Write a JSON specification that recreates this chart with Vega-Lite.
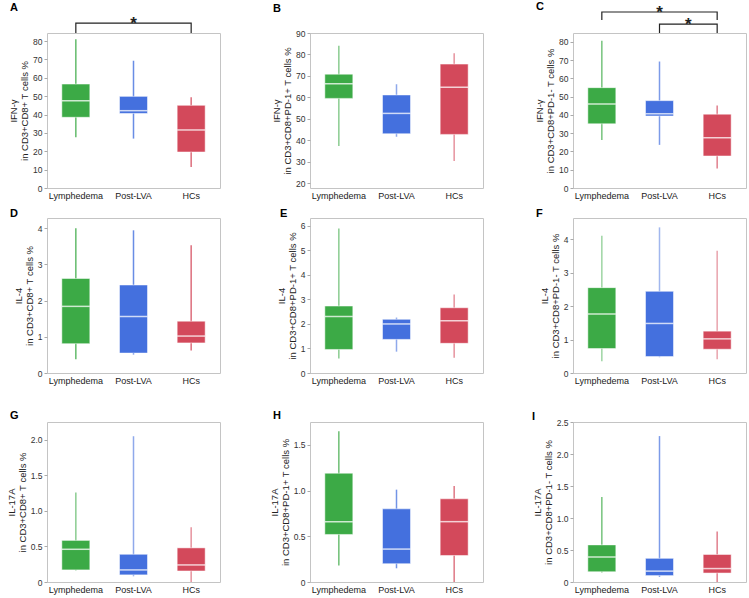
{
"$schema":"https://vega.github.io/schema/vega-lite/v6.json",
"padding":{"left":5,"top":0,"right":0,"bottom":0},
"background":"white",
"spacing":6,
"resolve":{"scale":{"x":"independent","y":"independent","color":"independent"}},
"config":{
 "view":{"stroke":"#c4c4c4","strokeWidth":1},
 "font":"Liberation Sans",
 "title":{"anchor":"start","frame":"group","font":"Liberation Sans","fontSize":11,"fontWeight":"bold","color":"#000","offset":0},
 "axis":{"domain":false,"grid":false,"labelFont":"Liberation Sans","titleFont":"Liberation Sans","labelColor":"#333","titleColor":"#222","tickColor":"#aaa","tickSize":3,"labelFontSize":8.5,"titleFontSize":9.5,"titleFontWeight":"normal","titleLineHeight":11,"titlePadding":3,"labelPadding":2,"labelOverlap":false,"labelFlush":false,"labelBound":false,"labelSeparation":0},
 "axisX":{"ticks":false,"labelFontSize":9,"labelAngle":0,"labelPadding":3,"labelColor":"#222"}
},
"vconcat":[
{"hconcat":[
 {"width":173,"height":155,"title":{"text":"A","dx":-37,"dy":1.5},
  "data":{"values":[
   {"g":"Lymphedema","min":27.6,"q1":38.5,"med":47.5,"q3":56.6,"max":81},
   {"g":"Post-LVA","min":26.9,"q1":40.6,"med":42.1,"q3":49.9,"max":69.3},
   {"g":"HCs","min":11.4,"q1":19.6,"med":31.6,"q3":45,"max":49.4}]},
  "encoding":{"x":{"field":"g","type":"nominal","sort":["Lymphedema","Post-LVA","HCs"],"title":null,"scale":{"paddingInner":0,"paddingOuter":0}},
   "color":{"field":"g","type":"nominal","scale":{"domain":["Lymphedema","Post-LVA","HCs"],"range":["#3caa46","#4470de","#d3495b"]},"legend":null}},
  "layer":[
   {"mark":{"type":"rule","strokeWidth":1.5,"opacity":0.8},"encoding":{"y":{"field":"min","type":"quantitative","scale":{"domain":[0,84.4],"nice":false,"zero":false},"axis":{"values":[0,10,20,30,40,50,60,70,80],"labelOverlap":false},"title":["IFN-γ","in CD3+CD8+ T cells %"]},"y2":{"field":"max"}}},
   {"mark":{"type":"bar","size":28,"stroke":"white","strokeOpacity":0.5,"strokeWidth":1},"encoding":{"y":{"field":"q1","type":"quantitative","axis":{"values":[0,10,20,30,40,50,60,70,80],"labelOverlap":false},"title":["IFN-γ","in CD3+CD8+ T cells %"]},"y2":{"field":"q3"}}},
   {"mark":{"type":"tick","size":28,"thickness":1.5,"opacity":0.75},"encoding":{"y":{"field":"med","type":"quantitative","axis":{"values":[0,10,20,30,40,50,60,70,80],"labelOverlap":false},"title":["IFN-γ","in CD3+CD8+ T cells %"]},"color":{"value":"white"}}},
   {"data":{"values":[{"g":"Lymphedema","y":84.4,"o":1,"b":1},{"g":"Lymphedema","y":89.8,"o":2,"b":1},{"g":"HCs","y":89.8,"o":3,"b":1},{"g":"HCs","y":84.4,"o":4,"b":1}]},
    "mark":{"type":"line","strokeWidth":1.2},"encoding":{"y":{"field":"y","type":"quantitative","axis":{"values":[0,10,20,30,40,50,60,70,80],"labelOverlap":false},"title":["IFN-γ","in CD3+CD8+ T cells %"]},"order":{"field":"o","type":"quantitative"},"detail":{"field":"b"},"color":{"value":"#222"}}},
   {"data":{"values":[{"g":"Post-LVA","y":89.8,"s":"*"}]},
    "mark":{"type":"text","fontSize":17,"fontWeight":"bold","baseline":"alphabetic","dy":6},"encoding":{"y":{"field":"y","type":"quantitative","axis":{"values":[0,10,20,30,40,50,60,70,80],"labelOverlap":false},"title":["IFN-γ","in CD3+CD8+ T cells %"]},"text":{"field":"s"},"color":{"value":"#222"}}}
  ]},
 {"width":173,"height":155,"title":{"text":"B","dx":-37,"dy":-11.5},
  "data":{"values":[
   {"g":"Lymphedema","min":37.3,"q1":59.5,"med":66.3,"q3":70.8,"max":84.1},
   {"g":"Post-LVA","min":41.6,"q1":43,"med":52.5,"q3":61.1,"max":66.1},
   {"g":"HCs","min":30.3,"q1":42.7,"med":64.7,"q3":75.5,"max":80.6}]},
  "encoding":{"x":{"field":"g","type":"nominal","sort":["Lymphedema","Post-LVA","HCs"],"title":null,"scale":{"paddingInner":0,"paddingOuter":0}},
   "color":{"field":"g","type":"nominal","scale":{"domain":["Lymphedema","Post-LVA","HCs"],"range":["#3caa46","#4470de","#d3495b"]},"legend":null}},
  "layer":[
   {"mark":{"type":"rule","strokeWidth":1.5,"opacity":0.6},"encoding":{"y":{"field":"min","type":"quantitative","scale":{"domain":[17.7,90],"nice":false,"zero":false},"axis":{"values":[20,30,40,50,60,70,80,90],"labelOverlap":false},"title":["IFN-γ","in CD3+CD8+PD-1+ T cells %"]},"y2":{"field":"max"}}},
   {"mark":{"type":"bar","size":28,"stroke":"white","strokeOpacity":0.5,"strokeWidth":1},"encoding":{"y":{"field":"q1","type":"quantitative","axis":{"values":[20,30,40,50,60,70,80,90],"labelOverlap":false},"title":["IFN-γ","in CD3+CD8+PD-1+ T cells %"]},"y2":{"field":"q3"}}},
   {"mark":{"type":"tick","size":28,"thickness":1.5,"opacity":0.75},"encoding":{"y":{"field":"med","type":"quantitative","axis":{"values":[20,30,40,50,60,70,80,90],"labelOverlap":false},"title":["IFN-γ","in CD3+CD8+PD-1+ T cells %"]},"color":{"value":"white"}}}
  ]},
 {"width":173,"height":155,"title":{"text":"C","dx":-37,"dy":12},
  "data":{"values":[
   {"g":"Lymphedema","min":26.3,"q1":35.1,"med":46,"q3":54.9,"max":80.5},
   {"g":"Post-LVA","min":23.6,"q1":39.4,"med":40.6,"q3":47.8,"max":69.2},
   {"g":"HCs","min":10.7,"q1":17.5,"med":27.5,"q3":40.4,"max":45.1}]},
  "encoding":{"x":{"field":"g","type":"nominal","sort":["Lymphedema","Post-LVA","HCs"],"title":null,"scale":{"paddingInner":0,"paddingOuter":0}},
   "color":{"field":"g","type":"nominal","scale":{"domain":["Lymphedema","Post-LVA","HCs"],"range":["#3caa46","#4470de","#d3495b"]},"legend":null}},
  "layer":[
   {"mark":{"type":"rule","strokeWidth":1.5,"opacity":0.7},"encoding":{"y":{"field":"min","type":"quantitative","scale":{"domain":[0,84.8],"nice":false,"zero":false},"axis":{"values":[0,10,20,30,40,50,60,70,80],"labelOverlap":false},"title":["IFN-γ","in CD3+CD8+PD-1- T cells %"]},"y2":{"field":"max"}}},
   {"mark":{"type":"bar","size":28,"stroke":"white","strokeOpacity":0.5,"strokeWidth":1},"encoding":{"y":{"field":"q1","type":"quantitative","axis":{"values":[0,10,20,30,40,50,60,70,80],"labelOverlap":false},"title":["IFN-γ","in CD3+CD8+PD-1- T cells %"]},"y2":{"field":"q3"}}},
   {"mark":{"type":"tick","size":28,"thickness":1.5,"opacity":0.75},"encoding":{"y":{"field":"med","type":"quantitative","axis":{"values":[0,10,20,30,40,50,60,70,80],"labelOverlap":false},"title":["IFN-γ","in CD3+CD8+PD-1- T cells %"]},"color":{"value":"white"}}},
   {"data":{"values":[
     {"g":"Lymphedema","y":91.9,"o":1,"b":1},{"g":"Lymphedema","y":96.3,"o":2,"b":1},{"g":"HCs","y":96.3,"o":3,"b":1},{"g":"HCs","y":91.9,"o":4,"b":1},
     {"g":"Post-LVA","y":84.8,"o":1,"b":2},{"g":"Post-LVA","y":89.7,"o":2,"b":2},{"g":"HCs","y":89.7,"o":3,"b":2},{"g":"HCs","y":84.8,"o":4,"b":2}]},
    "mark":{"type":"line","strokeWidth":1.2},"encoding":{"y":{"field":"y","type":"quantitative","axis":{"values":[0,10,20,30,40,50,60,70,80],"labelOverlap":false},"title":["IFN-γ","in CD3+CD8+PD-1- T cells %"]},"order":{"field":"o","type":"quantitative"},"detail":{"field":"b"},"color":{"value":"#222"}}},
   {"data":{"values":[{"g":"Post-LVA","y":96.3,"s":"*"}]},
    "mark":{"type":"text","fontSize":17,"fontWeight":"bold","baseline":"alphabetic","dy":6},"encoding":{"y":{"field":"y","type":"quantitative","axis":{"values":[0,10,20,30,40,50,60,70,80],"labelOverlap":false},"title":["IFN-γ","in CD3+CD8+PD-1- T cells %"]},"text":{"field":"s"},"color":{"value":"#222"}}},
   {"data":{"values":[{"g":"HCs","y":89.7,"s":"*"}]},
    "mark":{"type":"text","fontSize":17,"fontWeight":"bold","baseline":"alphabetic","dy":6},"encoding":{"x":{"field":"g","type":"nominal","bandPosition":0},"y":{"field":"y","type":"quantitative","axis":{"values":[0,10,20,30,40,50,60,70,80],"labelOverlap":false},"title":["IFN-γ","in CD3+CD8+PD-1- T cells %"]},"text":{"field":"s"},"color":{"value":"#222"}}}
  ]}
 ],"spacing":90,"bounds":"flush","resolve":{"scale":{"x":"independent","y":"independent","color":"independent"}}},
{"vconcat":[
 {"hconcat":[
  {"width":173,"height":155,"title":{"text":"D","dx":-37,"dy":5},
   "data":{"values":[
    {"g":"Lymphedema","min":0.38,"q1":0.81,"med":1.84,"q3":2.61,"max":4.0},
    {"g":"Post-LVA","min":0.51,"q1":0.55,"med":1.56,"q3":2.43,"max":3.94},
    {"g":"HCs","min":0.62,"q1":0.83,"med":1.02,"q3":1.43,"max":3.53}]},
   "encoding":{"x":{"field":"g","type":"nominal","sort":["Lymphedema","Post-LVA","HCs"],"title":null,"scale":{"paddingInner":0,"paddingOuter":0}},
    "color":{"field":"g","type":"nominal","scale":{"domain":["Lymphedema","Post-LVA","HCs"],"range":["#3caa46","#4470de","#d3495b"]},"legend":null}},
   "layer":[
    {"mark":{"type":"rule","strokeWidth":1.5,"opacity":0.8},"encoding":{"y":{"field":"min","type":"quantitative","scale":{"domain":[0,4.28],"nice":false,"zero":false},"axis":{"values":[0,1,2,3,4],"labelOverlap":false},"title":["IL-4","in CD3+CD8+ T cells %"]},"y2":{"field":"max"}}},
    {"mark":{"type":"bar","size":28,"stroke":"white","strokeOpacity":0.5,"strokeWidth":1},"encoding":{"y":{"field":"q1","type":"quantitative","axis":{"values":[0,1,2,3,4],"labelOverlap":false},"title":["IL-4","in CD3+CD8+ T cells %"]},"y2":{"field":"q3"}}},
    {"mark":{"type":"tick","size":28,"thickness":1.5,"opacity":0.75},"encoding":{"y":{"field":"med","type":"quantitative","axis":{"values":[0,1,2,3,4],"labelOverlap":false},"title":["IL-4","in CD3+CD8+ T cells %"]},"color":{"value":"white"}}}
   ]},
  {"width":173,"height":155,"title":{"text":"E","dx":-30,"dy":5},
   "data":{"values":[
    {"g":"Lymphedema","min":0.59,"q1":0.96,"med":2.3,"q3":2.73,"max":5.89},
    {"g":"Post-LVA","min":0.87,"q1":1.37,"med":2.0,"q3":2.19,"max":2.26},
    {"g":"HCs","min":0.62,"q1":1.21,"med":2.13,"q3":2.66,"max":3.2}]},
   "encoding":{"x":{"field":"g","type":"nominal","sort":["Lymphedema","Post-LVA","HCs"],"title":null,"scale":{"paddingInner":0,"paddingOuter":0}},
    "color":{"field":"g","type":"nominal","scale":{"domain":["Lymphedema","Post-LVA","HCs"],"range":["#3caa46","#4470de","#d3495b"]},"legend":null}},
   "layer":[
    {"mark":{"type":"rule","strokeWidth":1.5,"opacity":0.6},"encoding":{"y":{"field":"min","type":"quantitative","scale":{"domain":[0,6.32],"nice":false,"zero":false},"axis":{"values":[0,1,2,3,4,5,6],"labelOverlap":false},"title":["IL-4","in CD3+CD8+PD-1+ T cells %"]},"y2":{"field":"max"}}},
    {"mark":{"type":"bar","size":28,"stroke":"white","strokeOpacity":0.5,"strokeWidth":1},"encoding":{"y":{"field":"q1","type":"quantitative","axis":{"values":[0,1,2,3,4,5,6],"labelOverlap":false},"title":["IL-4","in CD3+CD8+PD-1+ T cells %"]},"y2":{"field":"q3"}}},
    {"mark":{"type":"tick","size":28,"thickness":1.5,"opacity":0.75},"encoding":{"y":{"field":"med","type":"quantitative","axis":{"values":[0,1,2,3,4,5,6],"labelOverlap":false},"title":["IL-4","in CD3+CD8+PD-1+ T cells %"]},"color":{"value":"white"}}}
   ]},
  {"width":173,"height":155,"title":{"text":"F","dx":-37,"dy":5},
   "data":{"values":[
    {"g":"Lymphedema","min":0.35,"q1":0.73,"med":1.76,"q3":2.55,"max":4.1},
    {"g":"Post-LVA","min":0.47,"q1":0.49,"med":1.48,"q3":2.44,"max":4.35},
    {"g":"HCs","min":0.41,"q1":0.71,"med":1.02,"q3":1.25,"max":3.65}]},
   "encoding":{"x":{"field":"g","type":"nominal","sort":["Lymphedema","Post-LVA","HCs"],"title":null,"scale":{"paddingInner":0,"paddingOuter":0}},
    "color":{"field":"g","type":"nominal","scale":{"domain":["Lymphedema","Post-LVA","HCs"],"range":["#3caa46","#4470de","#d3495b"]},"legend":null}},
   "layer":[
    {"mark":{"type":"rule","strokeWidth":1.5,"opacity":0.5},"encoding":{"y":{"field":"min","type":"quantitative","scale":{"domain":[0,4.63],"nice":false,"zero":false},"axis":{"values":[0,1,2,3,4],"labelOverlap":false},"title":["IL-4","in CD3+CD8+PD-1- T cells %"]},"y2":{"field":"max"}}},
    {"mark":{"type":"bar","size":28,"stroke":"white","strokeOpacity":0.5,"strokeWidth":1},"encoding":{"y":{"field":"q1","type":"quantitative","axis":{"values":[0,1,2,3,4],"labelOverlap":false},"title":["IL-4","in CD3+CD8+PD-1- T cells %"]},"y2":{"field":"q3"}}},
    {"mark":{"type":"tick","size":28,"thickness":1.5,"opacity":0.75},"encoding":{"y":{"field":"med","type":"quantitative","axis":{"values":[0,1,2,3,4],"labelOverlap":false},"title":["IL-4","in CD3+CD8+PD-1- T cells %"]},"color":{"value":"white"}}}
   ]}
 ],"spacing":90,"bounds":"flush","resolve":{"scale":{"x":"independent","y":"independent","color":"independent"}}},
 {"hconcat":[
  {"width":173,"height":160,"title":{"text":"G","dx":-37,"dy":3},
   "data":{"values":[
    {"g":"Lymphedema","min":0.16,"q1":0.17,"med":0.46,"q3":0.585,"max":1.26},
    {"g":"Post-LVA","min":0.08,"q1":0.1,"med":0.17,"q3":0.39,"max":2.05},
    {"g":"HCs","min":0,"q1":0.155,"med":0.24,"q3":0.48,"max":0.77}]},
   "encoding":{"x":{"field":"g","type":"nominal","sort":["Lymphedema","Post-LVA","HCs"],"title":null,"scale":{"paddingInner":0,"paddingOuter":0}},
    "color":{"field":"g","type":"nominal","scale":{"domain":["Lymphedema","Post-LVA","HCs"],"range":["#3caa46","#4470de","#d3495b"]},"legend":null}},
   "layer":[
    {"mark":{"type":"rule","strokeWidth":1.5,"opacity":0.6},"encoding":{"y":{"field":"min","type":"quantitative","scale":{"domain":[0,2.25],"nice":false,"zero":false},"axis":{"values":[0,0.5,1,1.5,2],"labelOverlap":false,"labelExpr":"datum.value == 0 ? '0' : format(datum.value, '.1f')"},"title":["IL-17A","in CD3+CD8+ T cells %"]},"y2":{"field":"max"}}},
    {"mark":{"type":"bar","size":28,"stroke":"white","strokeOpacity":0.5,"strokeWidth":1},"encoding":{"y":{"field":"q1","type":"quantitative","axis":{"values":[0,0.5,1,1.5,2],"labelOverlap":false,"labelExpr":"datum.value == 0 ? '0' : format(datum.value, '.1f')"},"title":["IL-17A","in CD3+CD8+ T cells %"]},"y2":{"field":"q3"}}},
    {"mark":{"type":"tick","size":28,"thickness":1.5,"opacity":0.75},"encoding":{"y":{"field":"med","type":"quantitative","axis":{"values":[0,0.5,1,1.5,2],"labelOverlap":false,"labelExpr":"datum.value == 0 ? '0' : format(datum.value, '.1f')"},"title":["IL-17A","in CD3+CD8+ T cells %"]},"color":{"value":"white"}}}
   ]},
  {"width":173,"height":160,"title":{"text":"H","dx":-37,"dy":3},
   "data":{"values":[
    {"g":"Lymphedema","min":0.18,"q1":0.52,"med":0.66,"q3":1.19,"max":1.65},
    {"g":"Post-LVA","min":0.15,"q1":0.2,"med":0.36,"q3":0.8,"max":1.01},
    {"g":"HCs","min":0,"q1":0.29,"med":0.66,"q3":0.91,"max":1.05}]},
   "encoding":{"x":{"field":"g","type":"nominal","sort":["Lymphedema","Post-LVA","HCs"],"title":null,"scale":{"paddingInner":0,"paddingOuter":0}},
    "color":{"field":"g","type":"nominal","scale":{"domain":["Lymphedema","Post-LVA","HCs"],"range":["#3caa46","#4470de","#d3495b"]},"legend":null}},
   "layer":[
    {"mark":{"type":"rule","strokeWidth":1.5,"opacity":0.75},"encoding":{"y":{"field":"min","type":"quantitative","scale":{"domain":[0,1.75],"nice":false,"zero":false},"axis":{"values":[0,0.5,1,1.5],"labelOverlap":false,"labelExpr":"datum.value == 0 ? '0' : format(datum.value, '.1f')"},"title":["IL-17A","in CD3+CD8+PD-1+ T cells %"]},"y2":{"field":"max"}}},
    {"mark":{"type":"bar","size":28,"stroke":"white","strokeOpacity":0.5,"strokeWidth":1},"encoding":{"y":{"field":"q1","type":"quantitative","axis":{"values":[0,0.5,1,1.5],"labelOverlap":false,"labelExpr":"datum.value == 0 ? '0' : format(datum.value, '.1f')"},"title":["IL-17A","in CD3+CD8+PD-1+ T cells %"]},"y2":{"field":"q3"}}},
    {"mark":{"type":"tick","size":28,"thickness":1.5,"opacity":0.75},"encoding":{"y":{"field":"med","type":"quantitative","axis":{"values":[0,0.5,1,1.5],"labelOverlap":false,"labelExpr":"datum.value == 0 ? '0' : format(datum.value, '.1f')"},"title":["IL-17A","in CD3+CD8+PD-1+ T cells %"]},"color":{"value":"white"}}}
   ]},
  {"width":173,"height":160,"title":{"text":"I","dx":-41,"dy":7.5},
   "data":{"values":[
    {"g":"Lymphedema","min":0.15,"q1":0.16,"med":0.39,"q3":0.58,"max":1.33},
    {"g":"Post-LVA","min":0.08,"q1":0.1,"med":0.17,"q3":0.37,"max":2.28},
    {"g":"HCs","min":0,"q1":0.14,"med":0.21,"q3":0.43,"max":0.79}]},
   "encoding":{"x":{"field":"g","type":"nominal","sort":["Lymphedema","Post-LVA","HCs"],"title":null,"scale":{"paddingInner":0,"paddingOuter":0}},
    "color":{"field":"g","type":"nominal","scale":{"domain":["Lymphedema","Post-LVA","HCs"],"range":["#3caa46","#4470de","#d3495b"]},"legend":null}},
   "layer":[
    {"mark":{"type":"rule","strokeWidth":1.5,"opacity":0.7},"encoding":{"y":{"field":"min","type":"quantitative","scale":{"domain":[0,2.5],"nice":false,"zero":false},"axis":{"values":[0,0.5,1,1.5,2,2.5],"labelOverlap":false,"labelExpr":"datum.value == 0 ? '0' : format(datum.value, '.1f')"},"title":["IL-17A","in CD3+CD8+PD-1- T cells %"]},"y2":{"field":"max"}}},
    {"mark":{"type":"bar","size":28,"stroke":"white","strokeOpacity":0.5,"strokeWidth":1},"encoding":{"y":{"field":"q1","type":"quantitative","axis":{"values":[0,0.5,1,1.5,2,2.5],"labelOverlap":false,"labelExpr":"datum.value == 0 ? '0' : format(datum.value, '.1f')"},"title":["IL-17A","in CD3+CD8+PD-1- T cells %"]},"y2":{"field":"q3"}}},
    {"mark":{"type":"tick","size":28,"thickness":1.5,"opacity":0.75},"encoding":{"y":{"field":"med","type":"quantitative","axis":{"values":[0,0.5,1,1.5,2,2.5],"labelOverlap":false,"labelExpr":"datum.value == 0 ? '0' : format(datum.value, '.1f')"},"title":["IL-17A","in CD3+CD8+PD-1- T cells %"]},"color":{"value":"white"}}}
   ]}
 ],"spacing":90,"bounds":"flush","resolve":{"scale":{"x":"independent","y":"independent","color":"independent"}}}
],"spacing":23,"resolve":{"scale":{"x":"independent","y":"independent","color":"independent"}}}
]
}
